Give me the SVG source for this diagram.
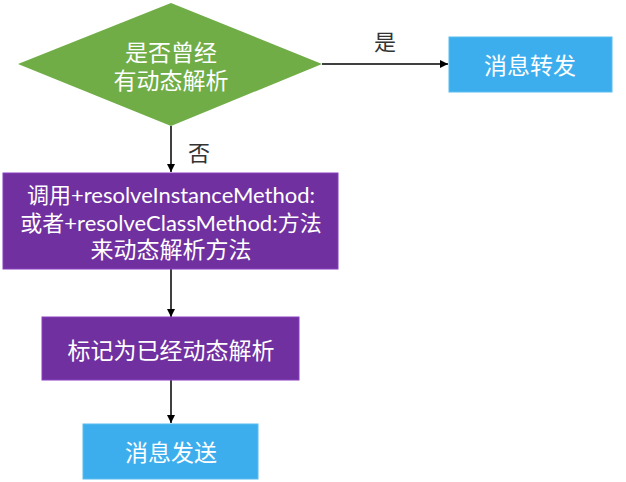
<svg xmlns="http://www.w3.org/2000/svg" width="626" height="482" viewBox="0 0 626 482">
<defs>
<marker id="arr" viewBox="0 0 10 10" refX="10" refY="5" markerWidth="8" markerHeight="8" markerUnits="userSpaceOnUse" orient="auto">
<path d="M0,0 L10,5 L0,10 z" fill="#000"/>
</marker>
</defs>
<style>
.t{font-family:Lato,"Noto Sans CJK SC",sans-serif;font-size:22px;fill:#fff;text-anchor:middle;dominant-baseline:central}
.c{font-size:23px}
.lbl{font-family:"Noto Sans CJK SC",sans-serif;font-size:22px;fill:#333;text-anchor:middle;dominant-baseline:central}
.blue{fill:#3daeed;stroke:#5bbcf0;stroke-width:1}
.purple{fill:#7030a0;stroke:#8a3fc0;stroke-width:1}
.edge{stroke:#000;stroke-width:1.5;fill:none;marker-end:url(#arr)}
</style>
<rect width="626" height="482" fill="#fff"/>
<g id="connectors">
<line class="edge" x1="322" y1="64" x2="448" y2="64"/>
<line class="edge" x1="171" y1="126" x2="171" y2="172"/>
<line class="edge" x1="171" y1="269" x2="171" y2="317"/>
<line class="edge" x1="171" y1="380" x2="171" y2="423"/>
<text class="lbl" x="385" y="40">是</text>
<text class="lbl" x="199" y="151">否</text>
</g>
<g id="decision">
<polygon points="171,3 322,64 171,126 18,64" fill="#70ad47"/>
<text class="t c" x="171" y="52">是否曾经</text>
<text class="t c" x="171" y="80">有动态解析</text>
</g>
<g id="forward">
<rect class="blue" x="449" y="37" width="163" height="55"/>
<text class="t c" x="530" y="65">消息转发</text>
</g>
<g id="resolve">
<rect class="purple" x="3" y="173" width="335" height="96"/>
<text class="t" x="171" y="194">调用+resolveInstanceMethod:</text>
<text class="t" x="171" y="222">或者+resolveClassMethod:方法</text>
<text class="t c" x="171" y="249">来动态解析方法</text>
</g>
<g id="mark">
<rect class="purple" x="42" y="317" width="257" height="63"/>
<text class="t c" x="171" y="350">标记为已经动态解析</text>
</g>
<g id="send">
<rect class="blue" x="83" y="424" width="175" height="55"/>
<text class="t c" x="171" y="452">消息发送</text>
</g>
</svg>
